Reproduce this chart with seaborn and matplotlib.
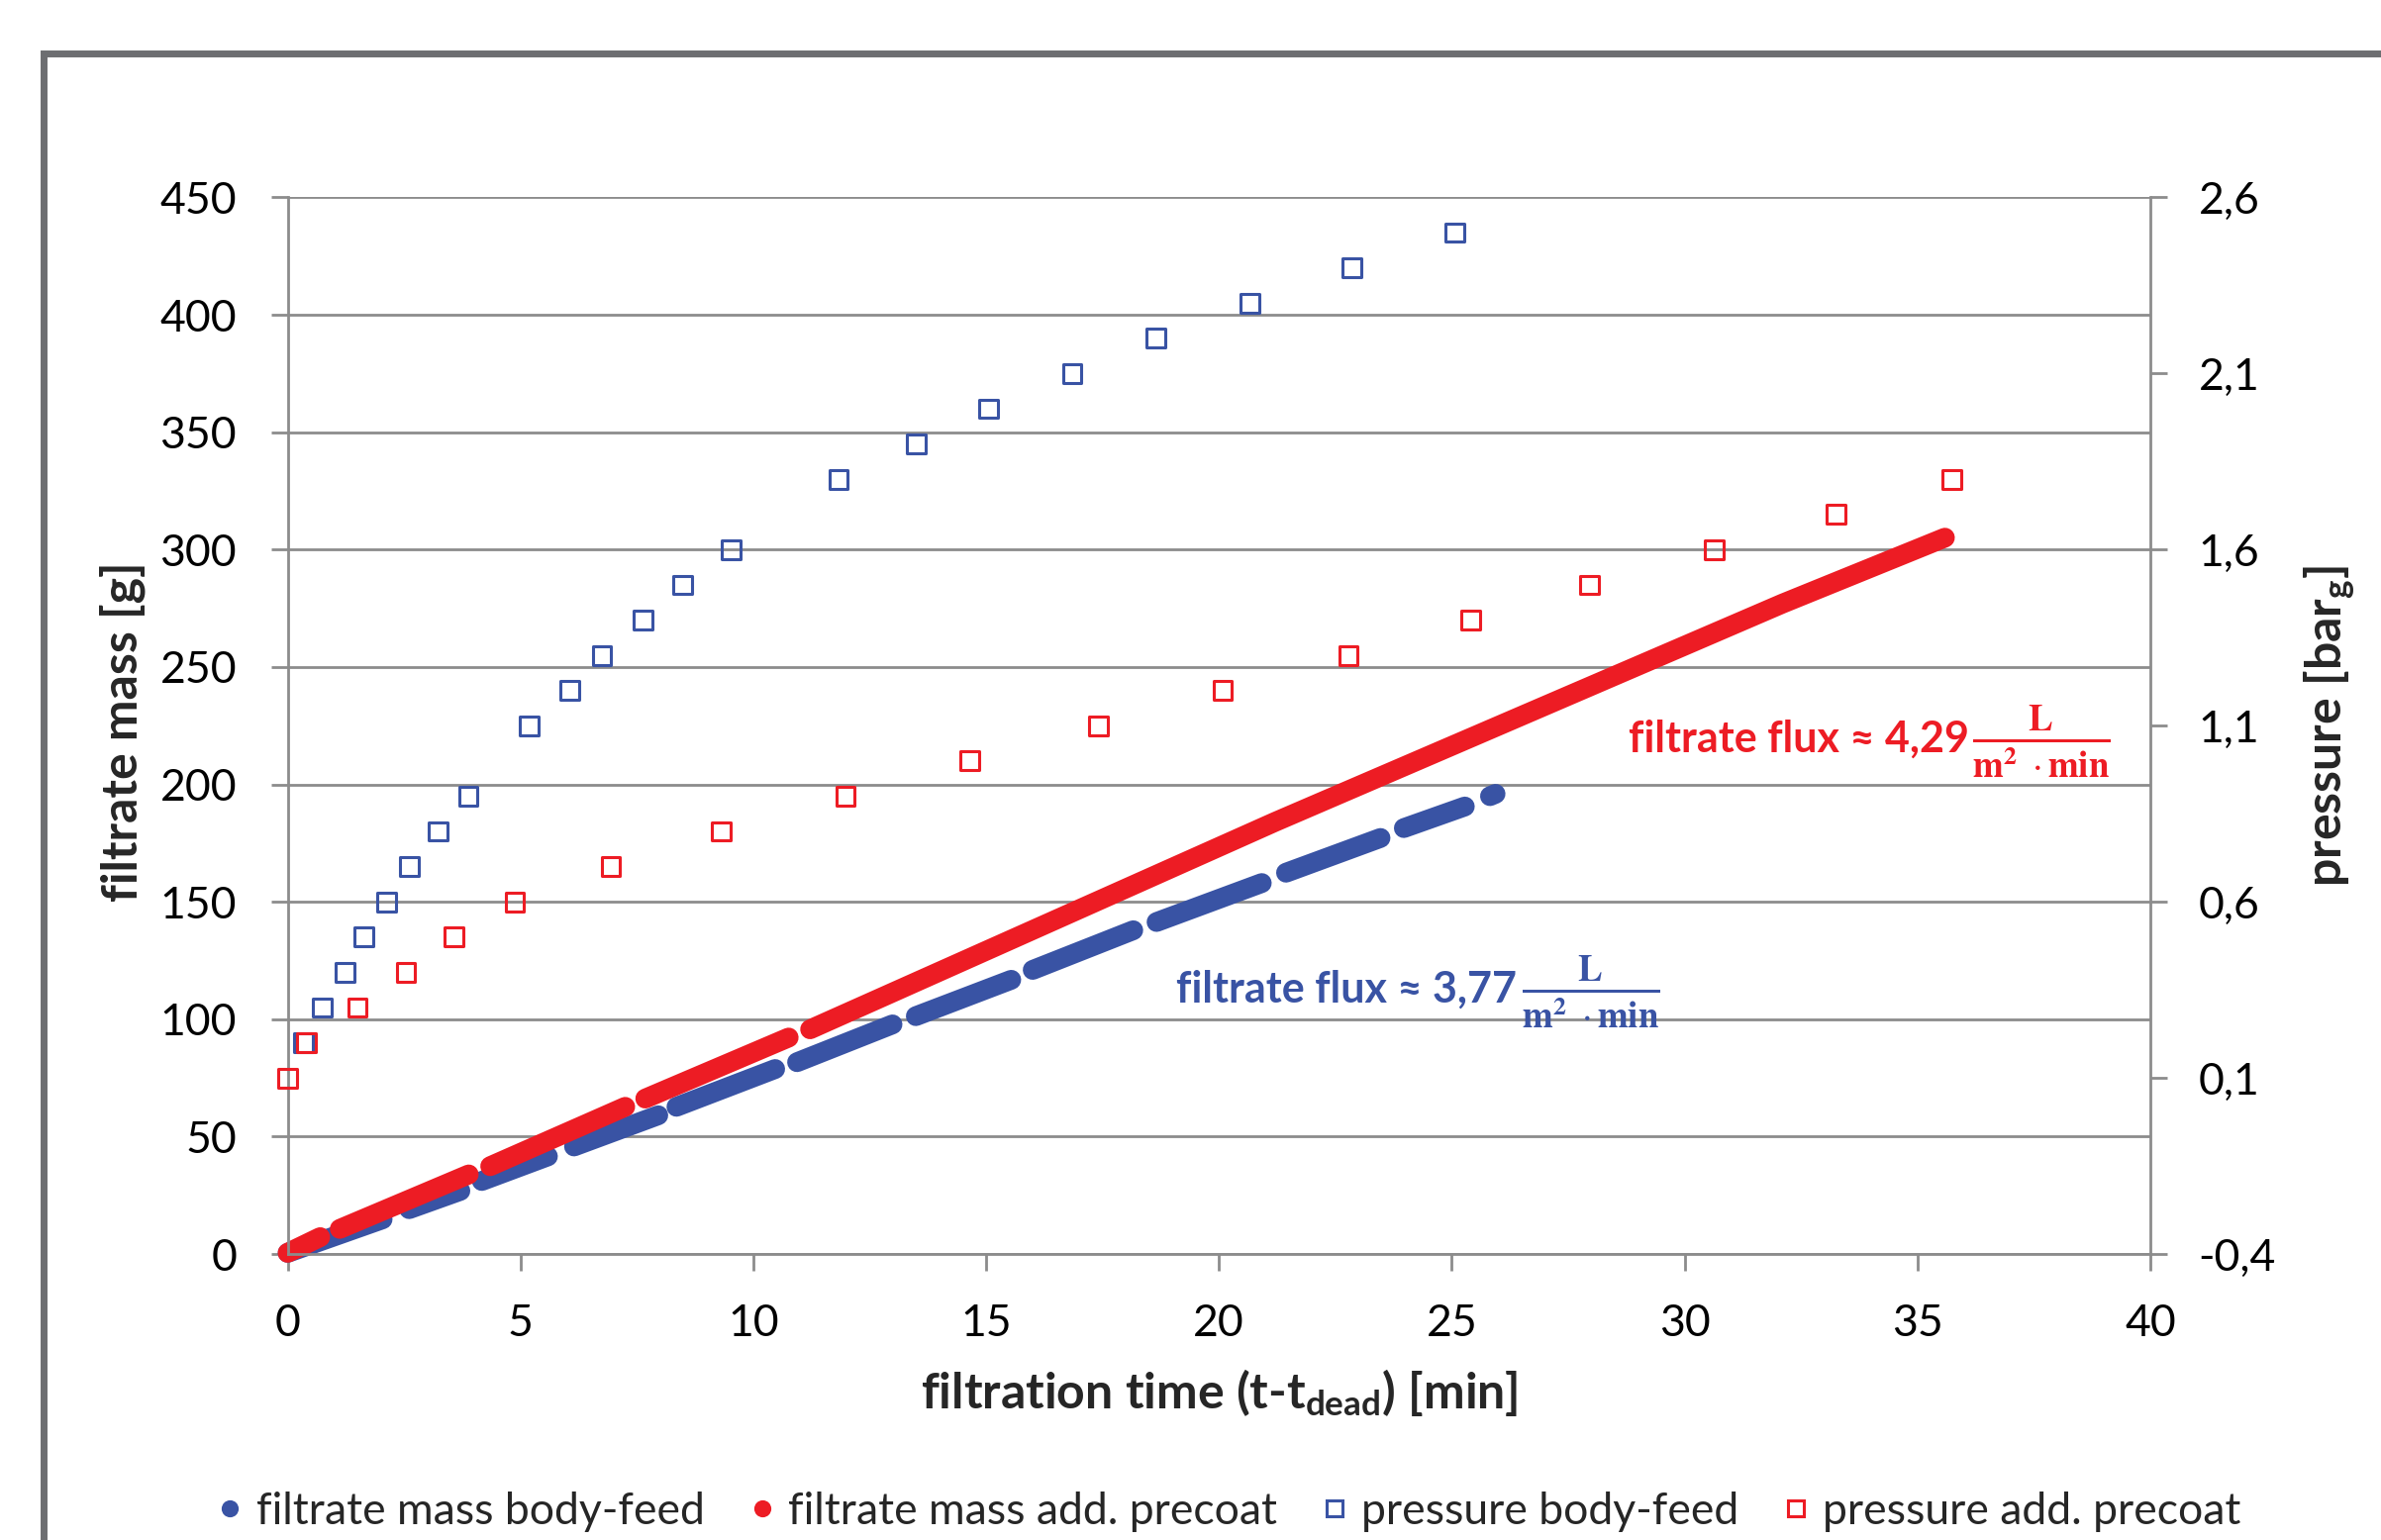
import matplotlib
matplotlib.use("Agg")
import matplotlib.pyplot as plt
from matplotlib.lines import Line2D
from matplotlib.patches import Rectangle
from matplotlib.ticker import FuncFormatter
import seaborn as sns
import pandas as pd

# filtrate mass, recorded in stretches: start/end point of every stretch
bf_time = [0.0, 2.04, 2.61, 3.71, 4.17, 5.59, 6.15, 7.96, 8.35, 10.47, 10.94, 12.99,
           13.49, 15.54, 16.00, 18.16, 18.66, 20.92, 21.44, 23.47, 23.97, 25.28, 25.82, 25.94]
bf_mass = [0.5, 14.8, 19.1, 26.9, 31.1, 41.6, 45.8, 59.1, 62.7, 78.8, 81.7, 97.8,
           101.3, 116.8, 121.0, 137.9, 141.4, 158.0, 162.4, 177.2, 181.4, 190.6, 195.0, 196.0]
bf_run = [1, 1, 2, 2, 3, 3, 4, 4, 5, 5, 6, 6, 7, 7, 8, 8, 9, 9, 10, 10, 11, 11, 12, 12]

pc_time = [0.0, 0.70, 1.12, 3.89, 4.35, 7.25, 7.68, 10.76, 11.22, 21.2, 32.1, 35.59]
pc_mass = [0.5, 7.2, 10.7, 33.9, 37.4, 62.7, 66.2, 92.2, 95.7, 184.0, 277.0, 305.1]
pc_run = [1, 1, 2, 2, 3, 3, 4, 4, 5, 5, 5, 5]

# pressure steps [bar_g]
bf_p_time = [0.34, 0.75, 1.23, 1.64, 2.13, 2.61, 3.23, 3.88, 5.18, 6.06, 6.75, 7.63,
             8.48, 9.52, 11.83, 13.50, 15.06, 16.85, 18.65, 20.67, 22.85, 25.07]
bf_pressure = [0.2, 0.3, 0.4, 0.5, 0.6, 0.7, 0.8, 0.9, 1.1, 1.2, 1.3, 1.4,
               1.5, 1.6, 1.8, 1.9, 2.0, 2.1, 2.2, 2.3, 2.4, 2.5]

pc_p_time = [0.0, 0.40, 1.50, 2.54, 3.57, 4.88, 6.94, 9.32, 11.98, 14.65, 17.42, 20.08,
             22.78, 25.40, 27.95, 30.63, 33.25, 35.73]
pc_pressure = [0.1, 0.2, 0.3, 0.4, 0.5, 0.6, 0.7, 0.8, 0.9, 1.0, 1.1, 1.2,
               1.3, 1.4, 1.5, 1.6, 1.7, 1.8]

x_ticks = [0, 5, 10, 15, 20, 25, 30, 35, 40]
mass_ticks = [0, 50, 100, 150, 200, 250, 300, 350, 400, 450]
pressure_ticks = [-0.4, 0.1, 0.6, 1.1, 1.6, 2.1, 2.6]

series_names = ['filtrate mass body-feed', 'filtrate mass add. precoat',
                'pressure body-feed', 'pressure add. precoat']

BLUE = '#3953a4'
RED = '#ed1c24'
GRAY = '#8c8c8c'

sns.set_theme(style='white')
plt.rcParams['font.family'] = ['Lato', 'DejaVu Sans']
plt.rcParams.update({
    'mathtext.fontset': 'custom',
    'mathtext.rm': 'Lato',
    'mathtext.bf': 'Lato:bold',
    'mathtext.it': 'Lato:italic',
    'mathtext.sf': 'Lato',
})

fig = plt.figure(figsize=(12.025, 7.78), dpi=200)
ax = fig.add_axes([0.1208, 0.1857, 0.7823, 0.6861])
ax2 = ax.twinx()

bf_df = pd.DataFrame({'time': bf_time, 'mass': bf_mass, 'run': bf_run})
pc_df = pd.DataFrame({'time': pc_time, 'mass': pc_mass, 'run': pc_run})

for df, col in [(bf_df, BLUE), (pc_df, RED)]:
    sns.lineplot(data=df, x='time', y='mass', units='run', estimator=None, sort=False,
                 color=col, linewidth=7.2, legend=False, ax=ax)
for line in ax.get_lines():
    line.set_solid_capstyle('round')
    line.set_clip_on(False)

sns.scatterplot(x=bf_p_time, y=bf_pressure, marker='s', s=46, facecolor='none',
                edgecolor=BLUE, linewidth=1.1, clip_on=False, ax=ax2)
sns.scatterplot(x=pc_p_time, y=pc_pressure, marker='s', s=46, facecolor='none',
                edgecolor=RED, linewidth=1.1, clip_on=False, ax=ax2)

ax.set_xlim(0, 40)
ax.set_ylim(0, 450)
ax2.set_ylim(-0.4, 2.6)
ax.set_xticks(x_ticks)
ax.set_yticks(mass_ticks)
ax2.set_yticks(pressure_ticks)
ax2.yaxis.set_major_formatter(FuncFormatter(lambda v, p: f'{v:.1f}'.replace('.', ',')))

ax.grid(axis='y', color=GRAY, linewidth=1.0)
ax.grid(axis='x', visible=False)
ax2.grid(False)

for a in (ax, ax2):
    for side in a.spines:
        a.spines[side].set_visible(False)
ax.spines['left'].set_visible(True)
ax.spines['bottom'].set_visible(True)
ax2.spines['right'].set_visible(True)
for sp in (ax.spines['left'], ax.spines['bottom'], ax2.spines['right']):
    sp.set_color(GRAY)
    sp.set_linewidth(1.0)

ax.tick_params(axis='x', bottom=True, direction='out', length=6, width=1.0, color=GRAY,
               labelsize=16, labelcolor='black', pad=12)
ax.tick_params(axis='y', left=True, right=False, direction='out', length=6, width=1.0,
               color=GRAY, labelsize=16, labelcolor='black', pad=12.5)
ax2.tick_params(axis='y', right=True, direction='out', length=6, width=1.0, color=GRAY,
                labelsize=16, labelcolor='black', pad=11.5)

ax.set_xlabel(r'filtration time (t-t$_{\mathbf{dead}}$) [min]', fontsize=18,
              fontweight='bold', va='center')
ax.xaxis.set_label_coords(0.5, -0.131)
ax.set_ylabel('filtrate mass [g]', fontsize=18, fontweight='bold', va='center')
ax.yaxis.set_label_coords(-0.0888, 0.494)
ax2.set_ylabel(r'pressure [bar$_{\mathbf{g}}$]', fontsize=18, fontweight='bold',
               va='center', rotation=90)
ax2.yaxis.set_label_coords(1.0962, 0.5)

# flux annotations
frac = r'$\frac{\mathbf{L}}{\mathbf{m}^{\mathbf{2}}\ \cdot\mathbf{min}}$'
ax.text(26.40, 107.3, 'filtrate flux ≈ 3,77', ha='right', va='baseline', color=BLUE,
        fontsize=15.5, fontweight='bold')
ax.text(26.50, 107.3, frac, ha='left', va='baseline', color=BLUE, fontsize=19,
        math_fontfamily='stix')
ax.text(36.10, 213.7, 'filtrate flux ≈ 4,29', ha='right', va='baseline', color=RED,
        fontsize=15.5, fontweight='bold')
ax.text(36.18, 213.7, frac, ha='left', va='baseline', color=RED, fontsize=19,
        math_fontfamily='stix')

handles = [
    Line2D([], [], ls='none', marker='o', markersize=5.2, color=BLUE, label=series_names[0]),
    Line2D([], [], ls='none', marker='o', markersize=5.2, color=RED, label=series_names[1]),
    Line2D([], [], ls='none', marker='s', markersize=5.5, markerfacecolor='none',
           markeredgecolor=BLUE, markeredgewidth=1.1, label=series_names[2]),
    Line2D([], [], ls='none', marker='s', markersize=5.5, markerfacecolor='none',
           markeredgecolor=RED, markeredgewidth=1.1, label=series_names[3]),
]
fig.legend(handles=handles, loc='center', bbox_to_anchor=(0.516, 0.0186), ncol=4,
           frameon=False, fontsize=16, handlelength=0.6, handletextpad=0.3,
           columnspacing=1.0, borderpad=0)

# chart border (cut off on the right and at the bottom)
fig.add_artist(Rectangle((0.0183, -0.2), 2.0, 1.1656, transform=fig.transFigure,
                         fill=False, edgecolor='#6d6e71', linewidth=2.5))

fig.savefig('out.png', dpi=200)
plt.close(fig)
